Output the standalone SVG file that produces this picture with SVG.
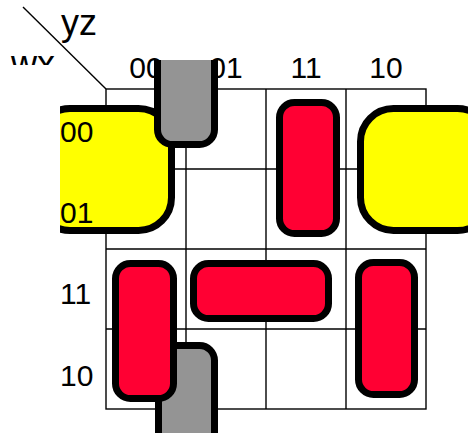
<svg xmlns="http://www.w3.org/2000/svg" width="468" height="433" viewBox="0 0 468 433">
<defs>
<clipPath id="clipWx"><rect x="0" y="0" width="100" height="65"/></clipPath>
<clipPath id="clipLeft"><rect x="60" y="0" width="408" height="433"/></clipPath>
<clipPath id="clipTop"><rect x="0" y="60" width="468" height="373"/></clipPath>
</defs>
<style>
.lbl{font-family:"Liberation Sans",Arial,sans-serif;font-size:30px;fill:#000}
.var{font-family:"Liberation Sans",Arial,sans-serif;font-size:36px;fill:#000}
.grid{stroke:#000;stroke-width:1.4;fill:none}
.loop{stroke:#000;stroke-width:7}
.y{fill:#ffff00}
.r{fill:#ff0033}
.g{fill:#949494}
</style>
<rect width="468" height="433" fill="#fff"/>
<g id="grid" class="grid">
<rect x="106" y="89" width="320" height="320"/>
<line x1="186" y1="89" x2="186" y2="409"/>
<line x1="266" y1="89" x2="266" y2="409"/>
<line x1="346" y1="89" x2="346" y2="409"/>
<line x1="106" y1="169" x2="426" y2="169"/>
<line x1="106" y1="249" x2="426" y2="249"/>
<line x1="106" y1="329" x2="426" y2="329"/>
</g>
<g id="connectors">
<line x1="23" y1="7" x2="106" y2="89" stroke="#000" stroke-width="1.4"/>
</g>
<g id="var-labels">
<text class="var" x="61" y="35">yz</text>
<text class="var" x="11" y="76" clip-path="url(#clipWx)">wx</text>
</g>
<g id="col-labels" class="lbl" text-anchor="middle">
<text x="146" y="78">00</text>
<text x="226" y="78">01</text>
<text x="306" y="78">11</text>
<text x="386" y="78">10</text>
</g>
<g id="loop-yellow-left" clip-path="url(#clipLeft)">
<rect class="loop y" x="37" y="108.5" width="134.5" height="122" rx="33"/>
</g>
<g id="loop-yellow-right">
<rect class="loop y" x="360.5" y="108.5" width="130" height="122" rx="33"/>
</g>
<g id="row-labels" class="lbl">
<text x="60" y="142">00</text>
<text x="60" y="223">01</text>
<text x="60" y="304">11</text>
<text x="60" y="386">10</text>
</g>
<g id="loop-gray-top" clip-path="url(#clipTop)">
<rect class="loop g" x="157.5" y="20" width="57" height="124.5" rx="15"/>
</g>
<g id="loop-gray-bottom">
<rect class="loop g" x="158.5" y="345.5" width="56" height="120" rx="15"/>
</g>
<g id="loop-red-col11">
<rect class="loop r" x="279.5" y="102.5" width="57" height="131" rx="15"/>
</g>
<g id="loop-red-col00">
<rect class="loop r" x="115.5" y="263.5" width="58" height="135" rx="15"/>
</g>
<g id="loop-red-row11">
<rect class="loop r" x="193.5" y="263.5" width="135" height="55" rx="15"/>
</g>
<g id="loop-red-col10">
<rect class="loop r" x="358.5" y="262.5" width="56" height="132" rx="15"/>
</g>
</svg>
